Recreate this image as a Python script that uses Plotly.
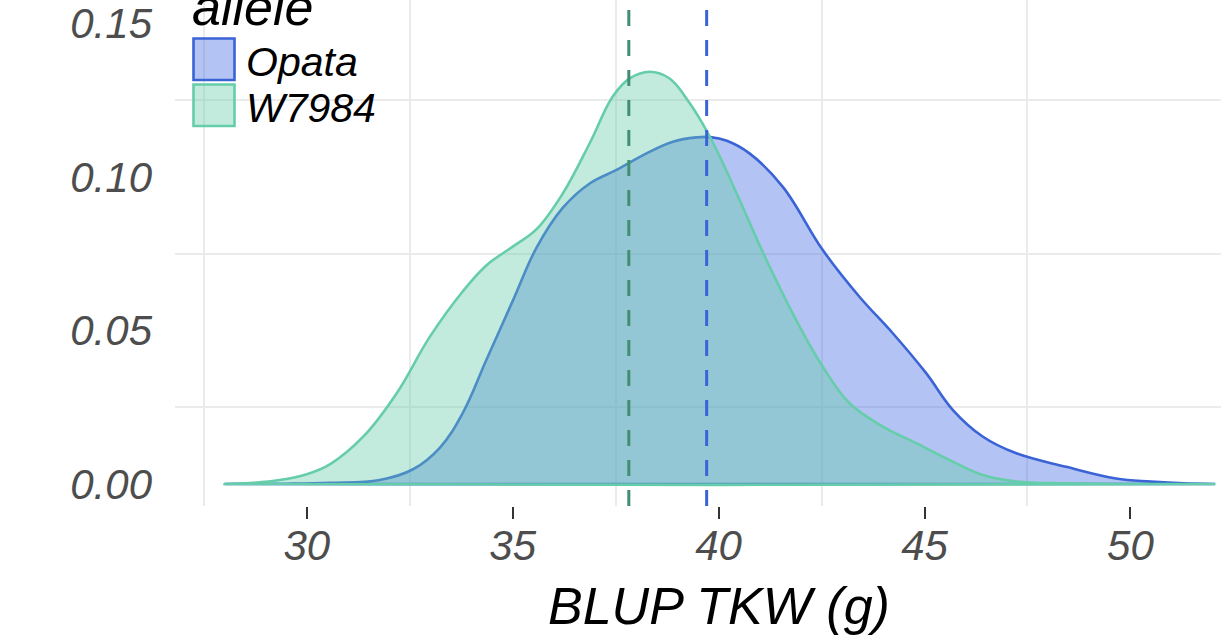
import plotly.graph_objects as go

# ---------------- data ----------------
alleles = ["Opata", "W7984"]

opata_x = [28.0, 29.5, 30.56, 31.77, 32.58, 33.23, 33.79, 34.36, 35.01, 35.58, 36.22, 36.87,
           37.52, 38.25, 38.89, 39.46, 39.80, 40.20, 40.75, 41.56, 42.53, 43.42, 44.23,
           45.04, 45.69, 46.42, 47.23, 48.44, 49.65, 50.50, 51.30, 52.06]
opata_d = [0.0, 0.0001, 0.0004, 0.0013, 0.0048, 0.0118, 0.0232, 0.0404, 0.0599, 0.0770, 0.0900,
           0.0979, 0.1023, 0.1077, 0.1115, 0.1129, 0.1130, 0.1118, 0.1077, 0.0968, 0.0762,
           0.0610, 0.0491, 0.0361, 0.0241, 0.0154, 0.0100, 0.0056, 0.0018, 0.0008, 0.0002, 0.0]

w7984_x = [28.0, 28.7, 29.34, 30.0, 30.56, 31.37, 32.18, 32.99, 33.79, 34.36, 35.01, 35.58,
           36.22, 36.87, 37.43, 37.84, 38.33, 38.81, 39.30, 39.70, 40.00, 40.51, 41.16,
           41.97, 42.53, 43.18, 43.99, 44.80, 45.61, 46.42, 47.23, 48.44, 50.0, 52.06]
w7984_d = [0.0, 0.0004, 0.0013, 0.0032, 0.0064, 0.0154, 0.0295, 0.0480, 0.0628, 0.0712, 0.0774,
           0.0830, 0.0947, 0.1110, 0.1262, 0.1321, 0.1343, 0.1321, 0.1240, 0.1153, 0.1075,
           0.0925, 0.0730, 0.0512, 0.0382, 0.0263, 0.0187, 0.0133, 0.0078, 0.0029, 0.0008,
           0.0002, 0.0, 0.0]

allele_means = [39.71, 37.82]

x_ticks = [30, 35, 40, 45, 50]
y_ticks = [0.00, 0.05, 0.10, 0.15]
x_minor = [27.5, 32.5, 37.5, 42.5, 47.5]
y_minor = [0.025, 0.075, 0.125]

x_title = "BLUP TKW (g)"
legend_title = "allele"

# ---------------- styling ----------------
line_cols = ["#3A63D6", "#66CDAA"]
fill_cols = ["rgba(65,105,225,0.4)", "rgba(102,205,170,0.4)"]
vline_cols = ["#3A63D6", "#3F8F70"]
FONT = "Liberation Sans, Arial, Helvetica, sans-serif"

fig = go.Figure()

for name, xs, ds, lc, fc in zip(alleles, [opata_x, w7984_x], [opata_d, w7984_d], line_cols, fill_cols):
    # closed polygon (curve + baseline), like ggplot's geom_density outline
    px = list(xs) + [xs[-1], xs[0]]
    py = list(ds) + [0.0, 0.0]
    fig.add_trace(go.Scatter(
        x=px, y=py, mode="lines", name=name, fill="toself", fillcolor=fc,
        line=dict(color=lc, width=2.6, shape="spline", smoothing=1.1),
        showlegend=False, hoverinfo="skip"))

# dashed mean lines
for m, c in zip(allele_means, vline_cols):
    fig.add_shape(type="line", xref="x", yref="paper", x0=m, x1=m, y0=0, y1=1,
                  line=dict(color=c, width=3, dash="16px,14px"), layer="above")

# ---------------- manual legend (large keys, as in ggplot) ----------------
W, H = 1221, 644
L, R, T, B = 175, 0, 0, 138
pw, ph = W - L - R, H - T - B

def px2paper_x(p):
    return (p - L) / pw

def px2paper_y(p):
    return 1 - (p - T) / ph

# white legend background hiding grid lines
fig.add_shape(type="rect", xref="paper", yref="paper",
              x0=px2paper_x(176), x1=px2paper_x(393), y0=px2paper_y(143), y1=px2paper_y(0),
              fillcolor="white", line=dict(width=0), layer="between")

key_tops = [37, 83]
for name, top, lc, fc in zip(alleles, key_tops, line_cols, fill_cols):
    fig.add_shape(type="rect", xref="paper", yref="paper",
                  x0=px2paper_x(193.5), x1=px2paper_x(234.5),
                  y0=px2paper_y(top + 43), y1=px2paper_y(top + 1.5),
                  fillcolor=fc, line=dict(color=lc, width=2.6), layer="above")
    fig.add_annotation(xref="paper", yref="paper", x=px2paper_x(244), y=px2paper_y(top + 25),
                       text=name, showarrow=False, xanchor="left", yanchor="middle",
                       font=dict(family=FONT, size=41, color="black", style="italic"))

fig.add_annotation(xref="paper", yref="paper", x=px2paper_x(190), y=px2paper_y(38),
                   text=legend_title, showarrow=False, xanchor="left", yanchor="bottom",
                   font=dict(family=FONT, size=52, color="black", style="italic"))

# x axis title
fig.add_annotation(xref="x", yref="paper", x=40, y=px2paper_y(606),
                   text=x_title, showarrow=False, xanchor="center", yanchor="middle",
                   font=dict(family=FONT, size=52, color="black", style="italic"))

y_lo = (484 - 506) / 3070
y_hi = 484 / 3070

fig.update_layout(
    width=W, height=H,
    margin=dict(l=L, r=R, t=T, b=B),
    paper_bgcolor="white", plot_bgcolor="white",
    showlegend=False,
    font=dict(family=FONT),
    xaxis=dict(range=[26.8, 52.2], tickvals=x_ticks, ticktext=[str(v) for v in x_ticks],
               showgrid=False, zeroline=False, showline=False,
               ticks="outside", ticklen=12, tickwidth=2, tickcolor="#333333",
               tickfont=dict(family=FONT, size=42, color="#4D4D4D", style="italic"),
               ticklabelstandoff=-9,
               minor=dict(tickvals=x_minor, showgrid=True, gridcolor="#EBEBEB", gridwidth=1.6,
                          ticks="")),
    yaxis=dict(range=[y_lo, y_hi], tickvals=y_ticks, ticktext=[f"{v:.2f}" for v in y_ticks],
               showgrid=False, zeroline=False, showline=False, ticks="",
               tickfont=dict(family=FONT, size=42, color="#4D4D4D", style="italic"),
               ticklabelstandoff=22,
               minor=dict(tickvals=y_minor, showgrid=True, gridcolor="#EBEBEB", gridwidth=1.6,
                          ticks="")),
)

fig.write_html("out.html", config={"displayModeBar": False},
               post_script="document.body.style.margin='0';")
